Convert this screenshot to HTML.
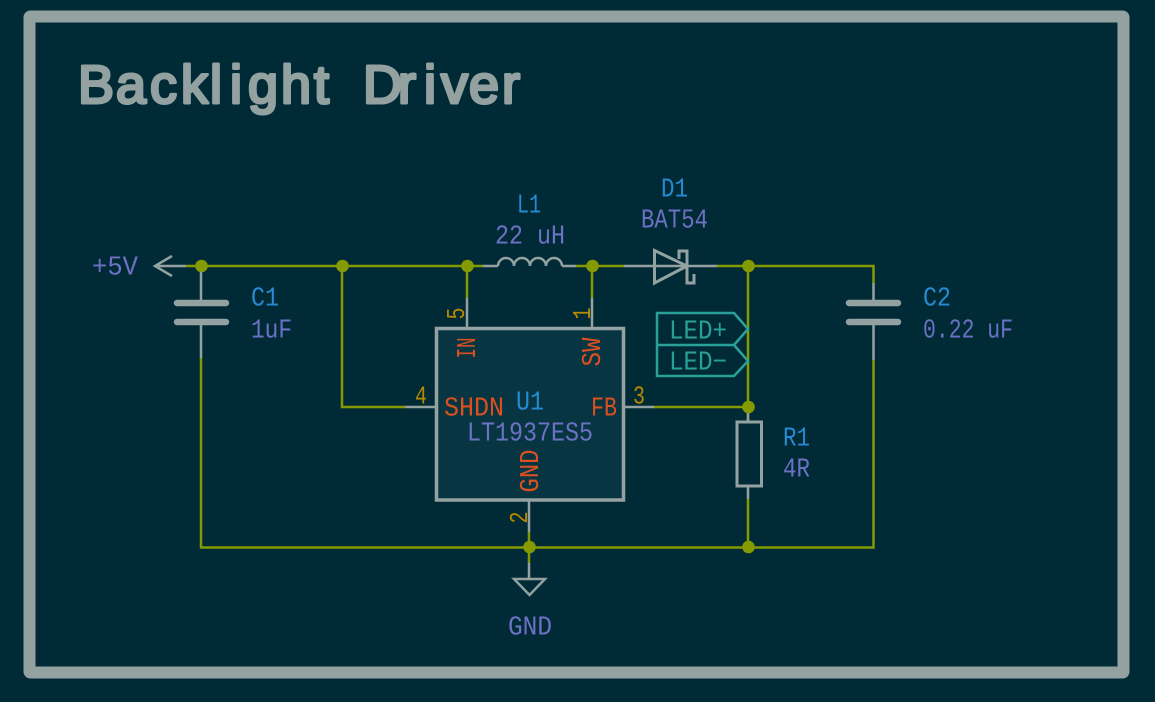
<!DOCTYPE html>
<html><head><meta charset="utf-8"><style>
html,body{margin:0;padding:0;background:#002b36;width:1155px;height:702px;overflow:hidden}
svg{display:block}
text{font-family:"Liberation Mono","DejaVu Sans Mono",monospace;font-size:27px}
.w{stroke:#859900;stroke-width:2.5;fill:none}
.g{stroke:#93a1a1;stroke-width:2.5;fill:none}
.b{fill:#268bd2}.v{fill:#6c71c4}.o{fill:#dc5020}.y{fill:#b58900;font-size:26px}.c{fill:#2aa198}
</style></head><body>
<svg width="1155" height="702" viewBox="0 0 1155 702" xmlns="http://www.w3.org/2000/svg">
<rect width="1155" height="702" fill="#002b36"/>
<rect x="29.5" y="16.5" width="1094" height="656" rx="1" fill="none" stroke="#93a1a1" stroke-width="12" stroke-linejoin="round"/>
<text x="78 116 150 181 210 230 248 281 314 340 363 398 424 441 469 502" y="103" style="font-family:'Liberation Sans',sans-serif;font-size:54px;stroke:#93a1a1;stroke-width:3;stroke-linejoin:round" fill="#93a1a1">Backlight Driver</text>

<rect x="436.5" y="328.5" width="187" height="171.5" fill="#073642" stroke="#93a1a1" stroke-width="3.5"/>

<path class="w" d="M186 266H483M576 266H624M717 266H873.5V283M748 266V422M342 266V407H405M654 407H748M201 358V547.5H873.5V360M529 532V563M748 499V547"/>
<path class="g" d="M186 266H155M172 256L155 266L172 276M201 266V303M201 322V358M873.5 283V303M873.5 322V360M467 298V328M592 298V328M405 407H436M624 407H654M529 500V532M529 563V579M748 407V422M748 486V499M483 266H498M562 266H576M624 266H687M687 266H717"/>
<path class="w" d="M467 266V298M592 266V298"/>
<path d="M498 266A8 8 0 0 1 514 266A8 8 0 0 1 530 266A8 8 0 0 1 546 266A8 8 0 0 1 562 266" fill="none" stroke="#93a1a1" stroke-width="2.5"/>
<path d="M654.5 250.5V283L687 266Z" fill="none" stroke="#93a1a1" stroke-width="3"/>
<path d="M679 259V251H687V283H694V274" fill="none" stroke="#93a1a1" stroke-width="3"/>
<path d="M514 579H545L529.5 595Z" fill="none" stroke="#93a1a1" stroke-width="2.5"/>
<rect x="737" y="422" width="24.5" height="64" fill="none" stroke="#93a1a1" stroke-width="3"/>
<path d="M177 303H226M177 322H226M849 303H898M849 322H898" stroke="#93a1a1" stroke-width="6.5" stroke-linecap="round" fill="none"/>
<path d="M657 313H734L748 329L734 345H657ZM734 345L748 361L734 376H657V345" fill="none" stroke="#2aa198" stroke-width="2.5"/>

<g fill="#859900"><circle cx="201.5" cy="266" r="6.3"/><circle cx="342.5" cy="266" r="6.3"/><circle cx="467.5" cy="266" r="6.3"/><circle cx="592.5" cy="266" r="6.3"/><circle cx="748.5" cy="266" r="6.3"/><circle cx="748.5" cy="407" r="6.3"/><circle cx="529.5" cy="547" r="6.3"/><circle cx="748.5" cy="547" r="6.3"/></g>

<g transform="translate(0 0.5)">
<text class="b" x="517" y="212" textLength="24" lengthAdjust="spacingAndGlyphs">L1</text>
<text class="v" x="495" y="243" textLength="70" lengthAdjust="spacingAndGlyphs">22 uH</text>
<text class="b" x="661" y="196" textLength="27" lengthAdjust="spacingAndGlyphs">D1</text>
<text class="v" x="641" y="227" textLength="67" lengthAdjust="spacingAndGlyphs">BAT54</text>
<text class="v" x="92" y="274" textLength="46" lengthAdjust="spacingAndGlyphs">+5V</text>
<text class="b" x="251" y="305" textLength="28" lengthAdjust="spacingAndGlyphs">C1</text>
<text class="v" x="251" y="337" textLength="41" lengthAdjust="spacingAndGlyphs">1uF</text>
<text class="b" x="923" y="305" textLength="28" lengthAdjust="spacingAndGlyphs">C2</text>
<text class="v" x="923" y="337" textLength="90" lengthAdjust="spacingAndGlyphs">0.22 uF</text>
<text class="b" x="516" y="409" textLength="28" lengthAdjust="spacingAndGlyphs">U1</text>
<text class="v" x="467" y="440" textLength="126" lengthAdjust="spacingAndGlyphs">LT1937ES5</text>
<text class="o" x="444" y="415" textLength="60" lengthAdjust="spacingAndGlyphs">SHDN</text>
<text class="o" x="591" y="415" textLength="26" lengthAdjust="spacingAndGlyphs">FB</text>
<text class="o" transform="translate(538 492) rotate(-90)" textLength="43" lengthAdjust="spacingAndGlyphs">GND</text>
<text class="o" transform="translate(475 358) rotate(-90)" textLength="21" lengthAdjust="spacingAndGlyphs">IN</text>
<text class="o" transform="translate(600 366) rotate(-90)" textLength="29" lengthAdjust="spacingAndGlyphs">SW</text>
<text class="y" transform="translate(464 319) rotate(-90)" textLength="12" lengthAdjust="spacingAndGlyphs">5</text>
<text class="y" transform="translate(590 319) rotate(-90)" textLength="12" lengthAdjust="spacingAndGlyphs">1</text>
<text class="y" x="415" y="403" textLength="12" lengthAdjust="spacingAndGlyphs">4</text>
<text class="y" x="633" y="403" textLength="12" lengthAdjust="spacingAndGlyphs">3</text>
<text class="y" transform="translate(527 523) rotate(-90)" textLength="12" lengthAdjust="spacingAndGlyphs">2</text>
<text class="b" x="783" y="445" textLength="27" lengthAdjust="spacingAndGlyphs">R1</text>
<text class="v" x="783" y="476" textLength="27" lengthAdjust="spacingAndGlyphs">4R</text>
<text class="v" x="508" y="634" textLength="44" lengthAdjust="spacingAndGlyphs">GND</text>
<text class="c" x="669" y="338" textLength="58" lengthAdjust="spacingAndGlyphs">LED+</text>
<text class="c" x="669" y="369" textLength="58" lengthAdjust="spacingAndGlyphs">LED−</text>
</g>
</svg>
</body></html>
